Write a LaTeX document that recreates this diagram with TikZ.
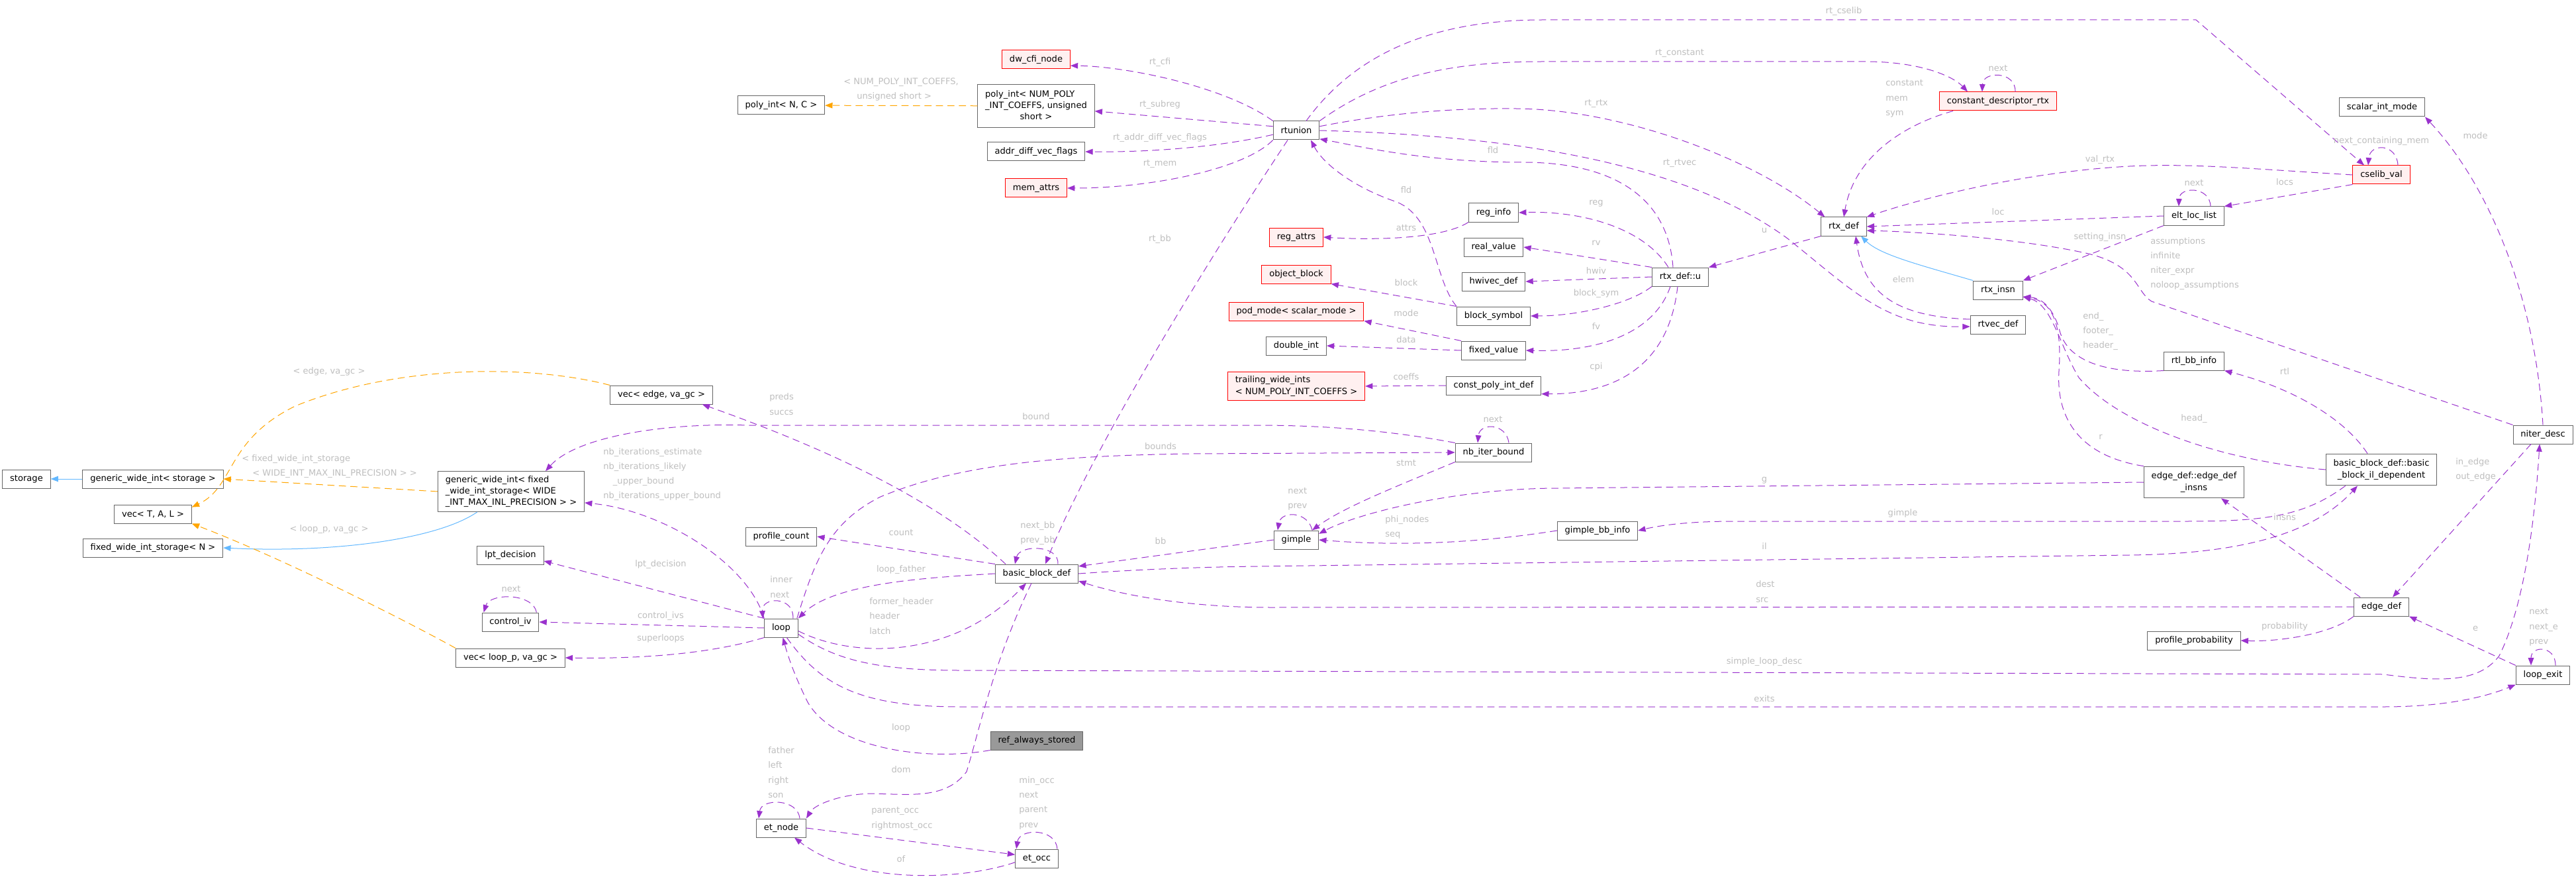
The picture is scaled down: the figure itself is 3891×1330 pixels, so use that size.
\documentclass[tikz,border=0pt]{standalone}
\usepackage{fontspec}
\setmainfont{DejaVu Sans}
\usetikzlibrary{arrows.meta, calc}

\definecolor{edgepurple}{HTML}{9A32CD}
\definecolor{edgeorange}{HTML}{FFA500}
\definecolor{edgeblue}{HTML}{63B8FF}
\definecolor{lblgrey}{HTML}{BEBEBE}
\definecolor{boxgrey}{HTML}{666666}
\definecolor{redfill}{HTML}{FFF0F0}
\definecolor{mainfill}{HTML}{999999}

\newcommand\boxfont{\fontsize{9.8}{12.9}\selectfont}
\newcommand\lblfont{\fontsize{9.8}{16.7}\selectfont}

\begin{document}
\begin{tikzpicture}[x=0.75pt, y=-0.75pt, >={Triangle[length=8.5pt, width=6.5pt]}]
    % Node styles
    \tikzstyle{n} = [draw=boxgrey, fill=white, line width=0.75pt, font=\boxfont, minimum height=21pt, inner xsep=8.5pt, inner ysep=5pt]
    \tikzstyle{nred} = [n, draw=red, fill=redfill]
    \tikzstyle{nmain} = [n, fill=mainfill]
    \tikzstyle{lbl} = [text=lblgrey, font=\lblfont, inner sep=0pt, align=left]
    \tikzstyle{coll} = [->, edgepurple, line width=0.75pt, dash pattern=on 8pt off 5pt]
    \tikzstyle{tmpl} = [->, edgeorange, line width=0.75pt, dash pattern=on 8pt off 5pt]
    \tikzstyle{inh} = [->, edgeblue, line width=0.75pt]

    \useasboundingbox (0,0) rectangle (3891,1330);

    % Nodes
    % templates, far left
    \node[n] (storage) at (40,723) {storage};
    \node[n] (gwistorage) at (231,723) {generic\_wide\_int< storage >};
    \node[n] (vecTAL) at (231,776) {vec< T, A, L >};
    \node[n] (fwis) at (231,827) {fixed\_wide\_int\_storage< N >};
    \node[n, align=left] (gwifixed) at (772,742) {generic\_wide\_int< fixed\\\_wide\_int\_storage< WIDE\\\_INT\_MAX\_INL\_PRECISION > >};
    \node[n] (vecedge) at (999,596) {vec< edge, va\_gc >};
    \node[n] (lptdec) at (771,838) {lpt\_decision};
    \node[n] (controliv) at (771,939) {control\_iv};
    \node[n] (veclooppr) at (771,993) {vec< loop\_p, va\_gc >};
    \node[n] (polyNC) at (1180,159) {poly\_int< N, C >};

    % loop column
    \node[n] (profilecount) at (1180,810) {profile\_count};
    \node[n] (loop) at (1180,948) {loop};
    \node[n] (etnode) at (1180,1250) {et\_node};

    % basic block column
    \node[nred] (dwcfi) at (1565,90) {dw\_cfi\_node};
    \node[n] (polynum) at (1565,160) {\begin{tabular}{@{}l@{}}poly\_int< NUM\_POLY\\\_INT\_COEFFS, unsigned\\\multicolumn{1}{@{}c@{}}{short >}\end{tabular}};
    \node[n] (addrdiff) at (1565,229) {addr\_diff\_vec\_flags};
    \node[nred] (memattrs) at (1565,284) {mem\_attrs};
    \node[n] (bb) at (1566,866) {basic\_block\_def};
    \node[nmain] (refstored) at (1566,1118) {ref\_always\_stored};
    \node[n] (etocc) at (1566,1296) {et\_occ};

    % rtunion column
    \node[n] (rtunion) at (1958,197) {rtunion};
    \node[nred] (regattrs) at (1958,358) {reg\_attrs};
    \node[nred] (objblock) at (1958,414) {object\_block};
    \node[nred] (podmode) at (1958,470) {pod\_mode< scalar\_mode >};
    \node[n] (doubleint) at (1958,522) {double\_int};
    \node[nred, align=left] (trailing) at (1958,583) {trailing\_wide\_ints\\< NUM\_POLY\_INT\_COEFFS >};
    \node[n] (gimple) at (1958,815) {gimple};

    % rtx_def::u members
    \node[n] (reginfo) at (2256,321) {reg\_info};
    \node[n] (realvalue) at (2256,373) {real\_value};
    \node[n] (hwivec) at (2256,425) {hwivec\_def};
    \node[n] (blocksym) at (2256,477) {block\_symbol};
    \node[n] (fixedvalue) at (2256,529) {fixed\_value};
    \node[n] (constpoly) at (2256,582) {const\_poly\_int\_def};
    \node[n] (nbiter) at (2256,683) {nb\_iter\_bound};
    \node[n] (gimplebb) at (2413,801) {gimple\_bb\_info};
    \node[n] (rtxu) at (2538,418) {rtx\_def::u};

    % rtx side
    \node[n] (rtxdef) at (2785,342) {rtx\_def};
    \node[nred] (constdesc) at (3018,153) {constant\_descriptor\_rtx};
    \node[n] (rtxinsn) at (3018,438) {rtx\_insn};
    \node[n] (rtvec) at (3018,490) {rtvec\_def};
    \node[n] (eltloc) at (3314,326) {elt\_loc\_list};
    \node[n] (rtlbb) at (3314,545) {rtl\_bb\_info};
    \node[n] (edgeinsns) at (3314,728) {\begin{tabular}{@{}l@{}}edge\_def::edge\_def\\\multicolumn{1}{@{}c@{}}{\_insns}\end{tabular}};
    \node[n] (profprob) at (3314,967) {profile\_probability};
    \node[nred] (cselib) at (3597,264) {cselib\_val};
    \node[n] (scalarmode) at (3598,162) {scalar\_int\_mode};
    \node[n] (bbil) at (3597,709) {\begin{tabular}{@{}l@{}}basic\_block\_def::basic\\\multicolumn{1}{@{}c@{}}{\_block\_il\_dependent}\end{tabular}};
    \node[n] (edgedef) at (3597,916) {edge\_def};
    \node[n] (niterdesc) at (3841,656) {niter\_desc};
    \node[n] (loopexit) at (3841,1019) {loop\_exit};

    % Edges
    % inheritance and templates
    \draw[inh] (gwistorage) -- (storage);
    \draw[tmpl] (gwifixed.west) -- (gwistorage.east);
    \draw[inh] ($(gwifixed.south west)+(60,0)$) .. controls (660,815) and (500,835) .. (fwis.east);
    \draw[tmpl] (vecedge.north west) .. controls (800,550) and (600,550) .. (446,613) .. controls (340,665) and (355,735) .. (vecTAL.10);
    \draw[tmpl] (veclooppr.north west) .. controls (600,930) and (420,840) .. (vecTAL.south east);
    \draw[tmpl] (polynum) -- (polyNC);
    \draw[inh] (rtxinsn.north west) .. controls (2900,400) and (2840,385) .. ($(rtxdef.south)+(26,0)$);

    % rtunion
    \draw[coll] (rtunion.north west) .. controls (1850,130) and (1700,100) .. (dwcfi.-10);
    \draw[coll] (rtunion.170) -- (polynum.-5);
    \draw[coll] (rtunion.-170) .. controls (1850,220) and (1750,230) .. (addrdiff.east);
    \draw[coll] (rtunion.south west) .. controls (1880,255) and (1740,284) .. (memattrs.east);
    \draw[coll] ($(rtunion.south)+(-13,0)$) .. controls (1800,430) and (1640,700) .. ($(bb.north)+(13,0)$);
    \draw[coll] ($(rtunion.north)+(15,0)$) .. controls (2040,90) and (2150,30) .. (2330,30) -- (3317,30) -- ($(cselib.north)+(-26,0)$);
    \draw[coll] (rtunion.north east) .. controls (2080,120) and (2180,93) .. (2330,93) -- (2818,93) .. controls (2900,93) and (2950,115) .. ($(constdesc.north west)+(43,0)$);
    \draw[coll] (rtunion.10) .. controls (2100,170) and (2200,163) .. (2290,164) .. controls (2450,165) and (2650,240) .. ($(rtxdef.north west)+(6,0)$);
    \draw[coll] (rtunion.east) .. controls (2300,205) and (2550,250) .. (2700,360) .. controls (2800,440) and (2850,495) .. ($(rtvec.west)+(0,3)$);
    \draw[coll] ($(rtxu.north)+(-11,0)$) .. controls (2520,300) and (2440,245) .. (2300,245) .. controls (2150,245) and (2050,220) .. (rtunion.-20);
    \draw[coll] (blocksym.north west) .. controls (2165,420) and (2170,330) .. (2110,305) .. controls (2050,285) and (2000,250) .. ($(rtunion.south)+(22,0)$);

    % rtx_def::u
    \draw[coll] (reginfo.south west) .. controls (2180,360) and (2080,363) .. (regattrs.east);
    \draw[coll] ($(rtxu.north)+(-18,0)$) .. controls (2480,340) and (2380,318) .. (reginfo.east);
    \draw[coll] (rtxu.north west) -- (realvalue.east);
    \draw[coll] (rtxu.west) -- (hwivec.east);
    \draw[coll] (rtxu.south west) .. controls (2460,460) and (2380,477) .. (blocksym.east);
    \draw[coll] ($(rtxu.south)+(-15,0)$) .. controls (2500,500) and (2420,532) .. (fixedvalue.east);
    \draw[coll] ($(rtxu.south)+(-4,0)$) .. controls (2520,560) and (2430,595) .. (constpoly.-10);
    \draw[coll] (blocksym.north west) -- (objblock.south east);
    \draw[coll] (fixedvalue.north west) -- (podmode.south east);
    \draw[coll] (fixedvalue.west) -- (doubleint.east);
    \draw[coll] (constpoly.west) -- (trailing.east);

    % rtx_def
    \draw[coll] (rtxdef.south west) -- (rtxu.north east);
    \draw[coll] ($(constdesc.south west)+(21,0)$) .. controls (2870,190) and (2800,240) .. (rtxdef.north);
    \draw[coll] (cselib.west) .. controls (3400,255) and (3300,245) .. (3200,252) .. controls (3050,262) and (2900,300) .. (rtxdef.north east);
    \draw[coll] (eltloc.west) -- (rtxdef.east);
    \draw[coll] (niterdesc.north west) -- (3250,455) .. controls (3225,440) and (3230,400) .. (3150,382) .. controls (3050,360) and (2900,350) .. (rtxdef.-10);
    \draw[coll] ($(rtvec.west)+(0,-8)$) .. controls (2860,478) and (2815,440) .. ($(rtxdef.south)+(18,0)$);
    \draw[coll] (cselib.south west) -- (eltloc.north east);
    \draw[coll] (eltloc.south west) -- (rtxinsn.north east);
    \draw[coll] (rtlbb.south west) .. controls (3180,565) and (3120,545) .. (3110,495) .. controls (3100,465) and (3085,450) .. (rtxinsn.-15);
    \draw[coll] (edgeinsns.north west) .. controls (3150,690) and (3105,640) .. (3110,560) .. controls (3115,490) and (3100,455) .. (rtxinsn.-15);
    \draw[coll] (bbil.west) .. controls (3350,695) and (3200,640) .. (3140,570) .. controls (3110,520) and (3100,460) .. (rtxinsn.-15);
    \draw[coll] ($(bbil.north)+(-21,0)$) .. controls (3540,630) and (3460,585) .. (rtlbb.south east);
    \draw[coll] (niterdesc.north) .. controls (3830,450) and (3760,280) .. (scalarmode.south east);

    % gimple, edges
    \draw[coll] (edgeinsns.west) -- (2355,737) .. controls (2200,737) and (2050,775) .. (gimple.15);
    \draw[coll] (nbiter.south west) .. controls (2120,730) and (2030,765) .. ($(gimple.north)+(24,0)$);
    \draw[coll] (gimplebb.west) .. controls (2200,825) and (2080,822) .. (gimple.east);
    \draw[coll] ($(bbil.south west)+(30,0)$) .. controls (3480,780) and (3420,787) .. (3300,787) -- (2620,787) .. controls (2540,787) and (2500,795) .. (gimplebb.east);
    \draw[coll] (bb.east) .. controls (1700,861) and (1800,856) .. (1900,855) -- (3216,838) .. controls (3400,836) and (3500,800) .. ($(bbil.south)+(-36,0)$);
    \draw[coll] (gimple.west) -- (bb.10);
    \draw[coll] (edgedef.west) -- (1920,917) .. controls (1800,917) and (1700,900) .. (bb.-10);
    \draw[coll] ($(edgedef.north west)+(10,0)$) -- ($(edgeinsns.south)+(41,0)$);
    \draw[coll] ($(niterdesc.south)+(-18,0)$) -- ($(edgedef.north)+(17,0)$);
    \draw[coll] (edgedef.south west) .. controls (3520,958) and (3440,969) .. (profprob.east);
    \draw[coll] (loopexit.north west) -- (edgedef.south east);

    % loop
    \draw[coll] (loop.-20) .. controls (1260,995) and (1320,1012) .. (1450,1012) -- (3600,1018) .. controls (3690,1030) and (3745,1030) .. (3775,990) .. controls (3810,920) and (3828,800) .. ($(niterdesc.south)+(-5,0)$);
    \draw[coll] (loop.-60) .. controls (1240,1035) and (1300,1067) .. (1450,1067) -- (3600,1067) .. controls (3700,1067) and (3760,1050) .. (loopexit.south west);
    \draw[coll] (refstored.south west) .. controls (1400,1150) and (1260,1130) .. (1220,1060) .. controls (1200,1020) and (1190,990) .. (loop.-80);
    \draw[coll] ($(bb.south)+(-8,0)$) .. controls (1500,1000) and (1480,1100) .. (1460,1165) .. controls (1430,1205) and (1380,1200) .. (1320,1198) .. controls (1270,1198) and (1230,1215) .. (etnode.north east);
    \draw[coll] (loop.-10) .. controls (1290,995) and (1440,995) .. ($(bb.south)+(-16,0)$);
    \draw[coll] (bb.west) .. controls (1400,872) and (1260,880) .. (loop.north east);
    \draw[coll] (bb.north west) -- (profilecount.east);
    \draw[coll] ($(bb.north west)+(16,0)$) .. controls (1400,740) and (1200,660) .. ($(vecedge.south east)+(-16,0)$);
    \draw[coll] (loop.north west) .. controls (1130,850) and (1000,770) .. ($(gwifixed.east)+(0,17)$);
    \draw[coll] (nbiter.north west) .. controls (2100,650) and (2000,642) .. (1900,642) -- (1130,642) .. controls (1000,638) and (870,660) .. ($(gwifixed.north)+(52,0)$);
    \draw[coll] ($(loop.north east)+(-2,0)$) .. controls (1230,850) and (1250,790) .. (1330,750) .. controls (1450,700) and (1600,688) .. (1800,685) -- (nbiter.west);
    \draw[coll] (loop.west) -- (controliv.east);
    \draw[coll] (loop.north west) -- (lptdec.-10);
    \draw[coll] (loop.south west) .. controls (1080,985) and (980,995) .. (veclooppr.east);
    \draw[coll] (etnode.east) -- (etocc.170);
    \draw[coll] (etocc.-170) .. controls (1450,1330) and (1290,1335) .. ($(etnode.south)+(20,0)$);

    % self loops
    \draw[coll] ($(controliv.north east)+(-4,0)$) .. controls (805,895) and (740,895) .. ($(controliv.north west)+(3,0)$);
    \draw[coll] ($(loop.north east)+(-8,0)$) .. controls (1200,900) and (1150,900) .. ($(loop.north west)+(-2,0)$);
    \draw[coll] ($(bb.north)+(32,0)$) .. controls (1600,822) and (1540,822) .. ($(bb.north)+(-33,0)$);
    \draw[coll] ($(etnode.north east)+(-10,0)$) .. controls (1205,1205) and (1150,1205) .. ($(etnode.north west)+(4,0)$);
    \draw[coll] ($(etocc.north east)+(-2,0)$) .. controls (1595,1250) and (1540,1250) .. ($(etocc.north west)+(2,0)$);
    \draw[coll] ($(gimple.north east)+(-10,0)$) .. controls (1975,771) and (1935,771) .. ($(gimple.north west)+(6,0)$);
    \draw[coll] ($(nbiter.north)+(23,0)$) .. controls (2275,638) and (2235,638) .. ($(nbiter.north)+(-24,0)$);
    \draw[coll] ($(constdesc.north)+(26,0)$) .. controls (3045,107) and (2995,107) .. ($(constdesc.north)+(-24,0)$);
    \draw[coll] ($(cselib.north)+(25,0)$) .. controls (3620,216) and (3580,216) .. ($(cselib.north)+(-20,0)$);
    \draw[coll] ($(eltloc.north)+(25,0)$) .. controls (3338,281) and (3292,281) .. ($(eltloc.north)+(-23,0)$);
    \draw[coll] ($(loopexit.north)+(19,0)$) .. controls (3860,974) and (3823,974) .. ($(loopexit.north)+(-18,0)$);

    % Labels
    \node[lbl] (l_edgevagc) at (497,561) {< edge, va\_gc >};
    \node[lbl, anchor=west] (l_fwis) at (365,704) {< fixed\_wide\_int\_storage\\\hspace*{12pt}< WIDE\_INT\_MAX\_INL\_PRECISION > >};
    \node[lbl] (l_looppvagc) at (497,799) {< loop\_p, va\_gc >};
    \node[lbl, anchor=west] (l_polynum) at (1274,135) {< NUM\_POLY\_INT\_COEFFS,\\\hspace*{15pt}unsigned short >};
    \node[lbl] (l_rtcfi) at (1752,94) {rt\_cfi};
    \node[lbl] (l_rtsubreg) at (1752,158) {rt\_subreg};
    \node[lbl] (l_rtaddr) at (1752,208) {rt\_addr\_diff\_vec\_flags};
    \node[lbl] (l_rtmem) at (1752,247) {rt\_mem};
    \node[lbl] (l_rtbb) at (1752,361) {rt\_bb};
    \node[lbl] (l_rtcselib) at (2785,17) {rt\_cselib};
    \node[lbl] (l_rtconstant) at (2537,80) {rt\_constant};
    \node[lbl] (l_rtrtx) at (2411,156) {rt\_rtx};
    \node[lbl, anchor=west] (l_cms) at (2848,149) {constant\\mem\\sym};
    \node[lbl] (l_fld1) at (2255,227) {fld};
    \node[lbl] (l_rtrtvec) at (2537,246) {rt\_rtvec};
    \node[lbl] (l_fld2) at (2124,287) {fld};
    \node[lbl] (l_reg) at (2411,307) {reg};
    \node[lbl] (l_attrs) at (2124,344) {attrs};
    \node[lbl] (l_u) at (2665,348) {u};
    \node[lbl] (l_rv) at (2411,367) {rv};
    \node[lbl] (l_hwiv) at (2411,409) {hwiv};
    \node[lbl] (l_elem) at (2875,422) {elem};
    \node[lbl] (l_block) at (2124,427) {block};
    \node[lbl] (l_blocksym) at (2411,443) {block\_sym};
    \node[lbl] (l_mode1) at (2124,473) {mode};
    \node[lbl] (l_fv) at (2411,493) {fv};
    \node[lbl] (l_data) at (2124,513) {data};
    \node[lbl] (l_cpi) at (2411,554) {cpi};
    \node[lbl] (l_coeffs) at (2124,569) {coeffs};
    \node[lbl] (l_next1) at (3018,103) {next};
    \node[lbl] (l_nextmem) at (3597,213) {next\_containing\_mem};
    \node[lbl] (l_valrtx) at (3172,241) {val\_rtx};
    \node[lbl] (l_next2) at (3314,276) {next};
    \node[lbl] (l_locs) at (3451,275) {locs};
    \node[lbl] (l_loc) at (3018,320) {loc};
    \node[lbl] (l_setting) at (3172,358) {setting\_insn};
    \node[lbl, anchor=west] (l_assump) at (3248,398) {assumptions\\infinite\\niter\_expr\\noloop\_assumptions};
    \node[lbl] (l_mode2) at (3739,205) {mode};
    \node[lbl, anchor=west] (l_endfh) at (3146,500) {end\_\\footer\_\\header\_};
    \node[lbl] (l_rtl) at (3451,561) {rtl};
    \node[lbl] (l_head) at (3314,632) {head\_};
    \node[lbl] (l_r) at (3173,660) {r};
    \node[lbl, anchor=west] (l_inout) at (3709,709) {in\_edge\\out\_edge};
    \node[lbl] (l_insns) at (3451,781) {insns};
    \node[lbl] (l_gimple) at (2874,775) {gimple};
    \node[lbl] (l_g) at (2665,725) {g};
    \node[lbl] (l_il) at (2665,825) {il};
    \node[lbl, anchor=west] (l_destsrc) at (2652,893) {dest\\src};
    \node[lbl] (l_prob) at (3451,946) {probability};
    \node[lbl] (l_e) at (3739,949) {e};
    \node[lbl, anchor=west] (l_nextexit) at (3820,947) {next\\next\_e\\prev};
    \node[lbl] (l_simple) at (2665,999) {simple\_loop\_desc};
    \node[lbl] (l_exits) at (2665,1055) {exits};
    \node[lbl, anchor=west] (l_predsuccs) at (1162,610) {preds\\succs};
    \node[lbl] (l_bound) at (1565,629) {bound};
    \node[lbl] (l_bounds) at (1753,674) {bounds};
    \node[lbl, anchor=west] (l_nbiter) at (911,716) {nb\_iterations\_estimate\\nb\_iterations\_likely\\\hspace*{11pt}\_upper\_bound\\nb\_iterations\_upper\_bound};
    \node[lbl] (l_count) at (1361,804) {count};
    \node[lbl, anchor=west] (l_nextbb) at (1541,805) {next\_bb\\prev\_bb};
    \node[lbl] (l_lptdec) at (998,852) {lpt\_decision};
    \node[lbl, anchor=west] (l_innernext) at (1163,886) {inner\\next};
    \node[lbl] (l_loopfather) at (1361,860) {loop\_father};
    \node[lbl] (l_next3) at (772,889) {next};
    \node[lbl] (l_controlivs) at (998,930) {control\_ivs};
    \node[lbl, anchor=west] (l_header) at (1313,930) {former\_header\\header\\latch};
    \node[lbl] (l_superloops) at (998,964) {superloops};
    \node[lbl] (l_bb) at (1753,817) {bb};
    \node[lbl, anchor=west] (l_nextprev) at (1945,753) {next\\prev};
    \node[lbl] (l_stmt) at (2124,699) {stmt};
    \node[lbl] (l_next4) at (2255,633) {next};
    \node[lbl, anchor=west] (l_phiseq) at (2092,796) {phi\_nodes\\seq};
    \node[lbl] (l_loop) at (1361,1099) {loop};
    \node[lbl] (l_dom) at (1361,1162) {dom};
    \node[lbl, anchor=west] (l_father) at (1160,1166) {father\\left\\right\\son};
    \node[lbl, anchor=west] (l_occ) at (1316,1236) {parent\_occ\\rightmost\_occ};
    \node[lbl, anchor=west] (l_minocc) at (1539,1212) {min\_occ\\next\\parent\\prev};
    \node[lbl] (l_of) at (1361,1297) {of};

\end{tikzpicture}
\end{document}
